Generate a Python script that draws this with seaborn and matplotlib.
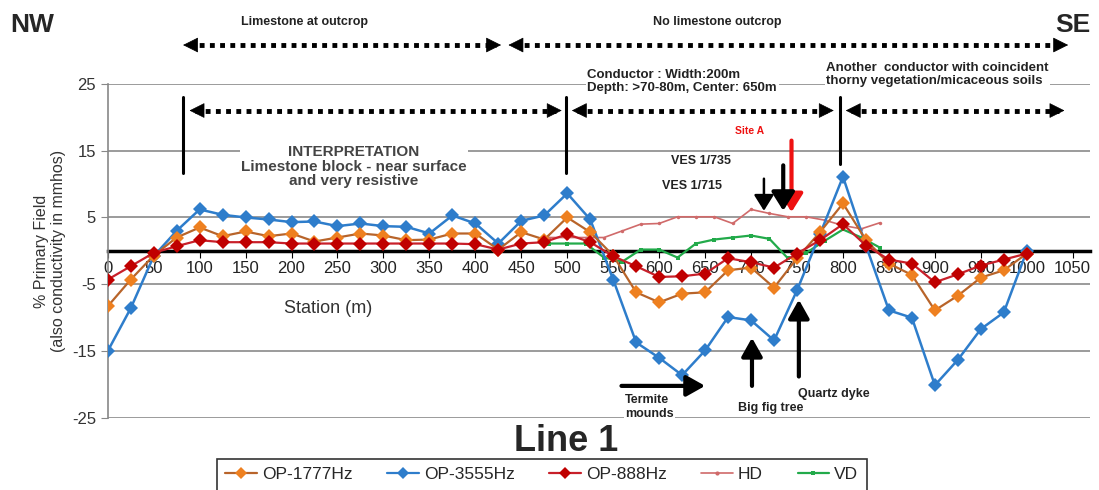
import numpy as np
import pandas as pd
import seaborn as sns
import matplotlib.pyplot as plt
from matplotlib.lines import Line2D

# stations (m), 25 m spacing for the OP series
stations = list(range(0, 1001, 25))
op1777 = [-8.3, -4.3, -0.7, 2.0, 3.5, 2.2, 2.9, 2.2, 2.6, 1.4, 2.0, 2.6, 2.3, 1.6, 1.7, 2.6, 2.6, 0.2, 2.8, 1.7,
          5.0, 2.8, -0.7, -6.2, -7.7, -6.4, -6.2, -2.9, -2.5, -5.5, -1.1, 2.8, 7.1, 1.6, -1.9, -3.6, -8.9, -6.7, -4.0, -2.9, -0.4]
op3555 = [-15.0, -8.6, -0.8, 3.0, 6.2, 5.4, 5.0, 4.7, 4.3, 4.4, 3.7, 4.1, 3.7, 3.6, 2.6, 5.3, 4.1, 1.1, 4.5, 5.3,
          8.6, 4.7, -4.3, -13.7, -16.0, -18.6, -14.9, -9.9, -10.4, -13.4, -5.9, 2.5, 11.1, 0.8, -8.9, -10.0, -20.1, -16.3, -11.7, -9.2, 0.0]
op888 = [-4.3, -2.3, -0.3, 0.7, 1.6, 1.3, 1.3, 1.3, 1.1, 1.1, 1.1, 1.1, 1.1, 1.1, 1.1, 1.1, 1.0, 0.2, 1.1, 1.3,
         2.5, 1.3, -0.8, -2.3, -3.9, -3.8, -3.4, -1.1, -1.7, -2.5, -0.4, 1.6, 4.0, 0.8, -1.3, -1.9, -4.7, -3.5, -2.2, -1.3, -0.4]

# HD / VD readings, 20 m spacing
stations_hv = list(range(480, 841, 20))
hd = [2.0, 2.0, 2.0, 2.0, 3.0, 4.0, 4.1, 5.1, 5.1, 5.1, 4.1, 6.2, 5.6, 5.1, 5.1, 4.6, 3.8, 3.3, 4.2]
vd = [1.1, 1.1, 1.1, -1.0, -1.6, 0.2, 0.2, -1.0, 1.1, 1.7, 2.0, 2.3, 1.8, -1.1, -0.3, 1.5, 3.2, 2.0, 0.5]

xticks = list(range(0, 1051, 50))
yticks = [-25, -15, -5, 5, 15, 25]

sns.set_style('white')
plt.rcParams['font.family'] = ['Liberation Sans', 'DejaVu Sans']
plt.rcParams['axes.unicode_minus'] = False

fig = plt.figure(figsize=(10.99, 4.90), dpi=100)
ax = fig.add_axes([0.098, 0.147, 0.894, 0.682])

c_orange, c_orange_line = '#EE8020', '#B8642A'
c_blue = '#2E7DCB'
c_red, c_red_line = '#C00000', '#C8202A'
c_hd = '#D06A6A'
c_vd = '#22AA4A'

sns.lineplot(x=stations_hv, y=hd, ax=ax, color=c_hd, lw=1.2, marker='o', markersize=2.5,
             markeredgewidth=0, zorder=3)
sns.lineplot(x=stations_hv, y=vd, ax=ax, color=c_vd, lw=1.6, marker='s', markersize=3,
             markeredgewidth=0, zorder=3)
sns.lineplot(x=stations, y=op3555, ax=ax, color=c_blue, lw=1.8, marker='D', markersize=7,
             markeredgewidth=0, zorder=4)
sns.lineplot(x=stations, y=op1777, ax=ax, color=c_orange_line, lw=1.6, marker='D', markersize=7,
             markerfacecolor=c_orange, markeredgewidth=0, zorder=5)
sns.lineplot(x=stations, y=op888, ax=ax, color=c_red_line, lw=1.6, marker='D', markersize=7,
             markerfacecolor=c_red, markeredgewidth=0, zorder=6)

ax.set_xlim(0, 1069)
ax.set_ylim(-25, 25)
ax.set_yticks(yticks)
ax.set_xticks(xticks)
ax.tick_params(axis='y', labelsize=12, labelcolor='#333333', length=5, color='#888888', direction='out', left=True)
ax.tick_params(axis='x', labelsize=12, labelcolor='#222222', length=5, color='black', direction='out', bottom=True, pad=2)
for lab in ax.get_xticklabels():
    lab.set_fontweight('bold')
ax.yaxis.grid(True, color='#8a8a8a', lw=1.2)
ax.set_axisbelow(True)
ax.spines['bottom'].set_position(('data', 0))
ax.spines['bottom'].set_linewidth(2.5)
ax.spines['bottom'].set_color('black')
ax.spines['bottom'].set_zorder(2)
ax.spines['left'].set_color('#888888')
ax.spines['left'].set_linewidth(1.2)
ax.spines['top'].set_visible(False)
ax.spines['right'].set_visible(False)
ax.set_xlabel('')
ax.set_ylabel('% Primary Field\n(also conductivity in mmhos)', fontsize=11.5, color='#333333', labelpad=4)
ax.text(240, -8.6, 'Station (m)', fontsize=13, color='#333333', ha='center', va='center')

# dotted double arrows
def dotted_arrow(x0, x1, y, left=True, right=True):
    ax.plot([x0 + 6, x1 - 6], [y, y], color='black', lw=3.5, linestyle=(0, (1, 1.1)),
            dash_capstyle='butt', clip_on=False, zorder=7)
    style = '-|>,head_length=0.9,head_width=0.45'
    if left:
        ax.annotate('', xy=(x0, y), xytext=(x0 + 14, y), annotation_clip=False,
                    arrowprops=dict(arrowstyle=style, color='black', lw=0.5, mutation_scale=11,
                                    shrinkA=0, shrinkB=0))
    if right:
        ax.annotate('', xy=(x1, y), xytext=(x1 - 14, y), annotation_clip=False,
                    arrowprops=dict(arrowstyle=style, color='black', lw=0.5, mutation_scale=11,
                                    shrinkA=0, shrinkB=0))

dotted_arrow(82, 428, 30.8)
dotted_arrow(436, 1045, 30.8)
dotted_arrow(89, 494, 21.0)
dotted_arrow(505, 790, 21.0)
dotted_arrow(803, 1041, 21.0)
for xb, y0 in [(82, 11.7), (499, 11.7), (797, 13.0)]:
    ax.plot([xb, xb], [y0, 23.0], color='black', lw=2.2, clip_on=False, zorder=7)

bold9 = dict(fontsize=9, fontweight='bold', color='#222222')
white = dict(facecolor='white', edgecolor='none', pad=1)
ax.text(214, 34.2, 'Limestone at outcrop', ha='center', va='center', **bold9)
ax.text(663, 34.2, 'No limestone outcrop', ha='center', va='center', **bold9)
ax.text(522, 25.3, 'Conductor : Width:200m\nDepth: >70-80m, Center: 650m', ha='left', va='center',
        fontsize=9.5, fontweight='bold', color='#222222', linespacing=1.15, bbox=white, zorder=8)
ax.text(782, 26.4, 'Another  conductor with coincident\nthorny vegetation/micaceous soils', ha='left',
        va='center', fontsize=9.5, fontweight='bold', color='#222222', linespacing=1.15, bbox=white, zorder=8)
ax.text(268, 12.6, 'INTERPRETATION\nLimestone block - near surface\nand very resistive', ha='center',
        va='center', fontsize=11, fontweight='bold', color='#444444', linespacing=1.05, bbox=white, zorder=8)

ax.text(698, 18.0, 'Site A', ha='center', va='center', fontsize=7.5, fontweight='bold', color='#ee1111')
ax.annotate('', xy=(744, 5.8), xytext=(744, 16.5),
            arrowprops=dict(arrowstyle='-|>,head_length=0.8,head_width=0.5', color='#ee1111', lw=3,
                            mutation_scale=14, shrinkA=0, shrinkB=0), zorder=9)
ax.text(646, 13.4, 'VES 1/735', ha='center', va='center', **bold9)
ax.text(636, 9.7, 'VES 1/715', ha='center', va='center', **bold9)
ax.annotate('', xy=(714, 6.0), xytext=(714, 10.8),
            arrowprops=dict(arrowstyle='-|>,head_length=0.8,head_width=0.5', color='black', lw=1.8,
                            mutation_scale=12, shrinkA=0, shrinkB=0), zorder=9)
ax.annotate('', xy=(735, 6.0), xytext=(735, 12.8),
            arrowprops=dict(arrowstyle='-|>,head_length=0.8,head_width=0.5', color='black', lw=3,
                            mutation_scale=14, shrinkA=0, shrinkB=0), zorder=9)

# bottom arrows and labels
ax.annotate('', xy=(650, -20.2), xytext=(559, -20.2),
            arrowprops=dict(arrowstyle='-|>,head_length=0.8,head_width=0.45', color='black', lw=3,
                            mutation_scale=14, shrinkA=0, shrinkB=0), zorder=9)
ax.annotate('', xy=(701, -13.0), xytext=(701, -20.2),
            arrowprops=dict(arrowstyle='-|>,head_length=0.8,head_width=0.45', color='black', lw=3,
                            mutation_scale=14, shrinkA=0, shrinkB=0), zorder=9)
ax.annotate('', xy=(752, -7.3), xytext=(752, -18.8),
            arrowprops=dict(arrowstyle='-|>,head_length=0.8,head_width=0.45', color='black', lw=3,
                            mutation_scale=14, shrinkA=0, shrinkB=0), zorder=9)
ax.text(563, -23.4, 'Termite\nmounds', ha='left', va='center', fontsize=9, fontweight='bold',
        color='#222222', linespacing=1.2, bbox=white, zorder=8)
ax.text(721, -23.5, 'Big fig tree', ha='center', va='center', bbox=white, zorder=8, **bold9)
ax.text(790, -21.4, 'Quartz dyke', ha='center', va='center', **bold9)

fig.text(0.009, 0.948, 'NW', fontsize=19, fontweight='bold', ha='left', va='center')
fig.text(0.96, 0.948, 'SE', fontsize=19, fontweight='bold', ha='left', va='center')
fig.text(0.515, 0.098, 'Line 1', fontsize=26, fontweight='bold', ha='center', va='center')

handles = [
    Line2D([], [], color=c_orange_line, lw=1.6, marker='D', markersize=6, markerfacecolor=c_orange, markeredgewidth=0),
    Line2D([], [], color=c_blue, lw=1.6, marker='D', markersize=6, markeredgewidth=0),
    Line2D([], [], color=c_red_line, lw=1.6, marker='D', markersize=6, markerfacecolor=c_red, markeredgewidth=0),
    Line2D([], [], color=c_hd, lw=1.2, marker='o', markersize=3, markeredgewidth=0),
    Line2D([], [], color=c_vd, lw=1.6, marker='s', markersize=3, markeredgewidth=0),
]
leg_labels = ['OP-1777Hz', 'OP-3555Hz', 'OP-888Hz', 'HD', 'VD']
leg = fig.legend(handles, leg_labels, loc='upper center', bbox_to_anchor=(0.493, 0.064), ncol=5,
                 fontsize=12.5, frameon=True, fancybox=False, edgecolor='black', handlelength=1.8,
                 columnspacing=2.0, handletextpad=0.3, borderpad=0.5, borderaxespad=0)
leg.get_frame().set_linewidth(1.2)
if ax.get_legend() is not None:
    ax.get_legend().remove()

fig.savefig('out.png', dpi=100)
